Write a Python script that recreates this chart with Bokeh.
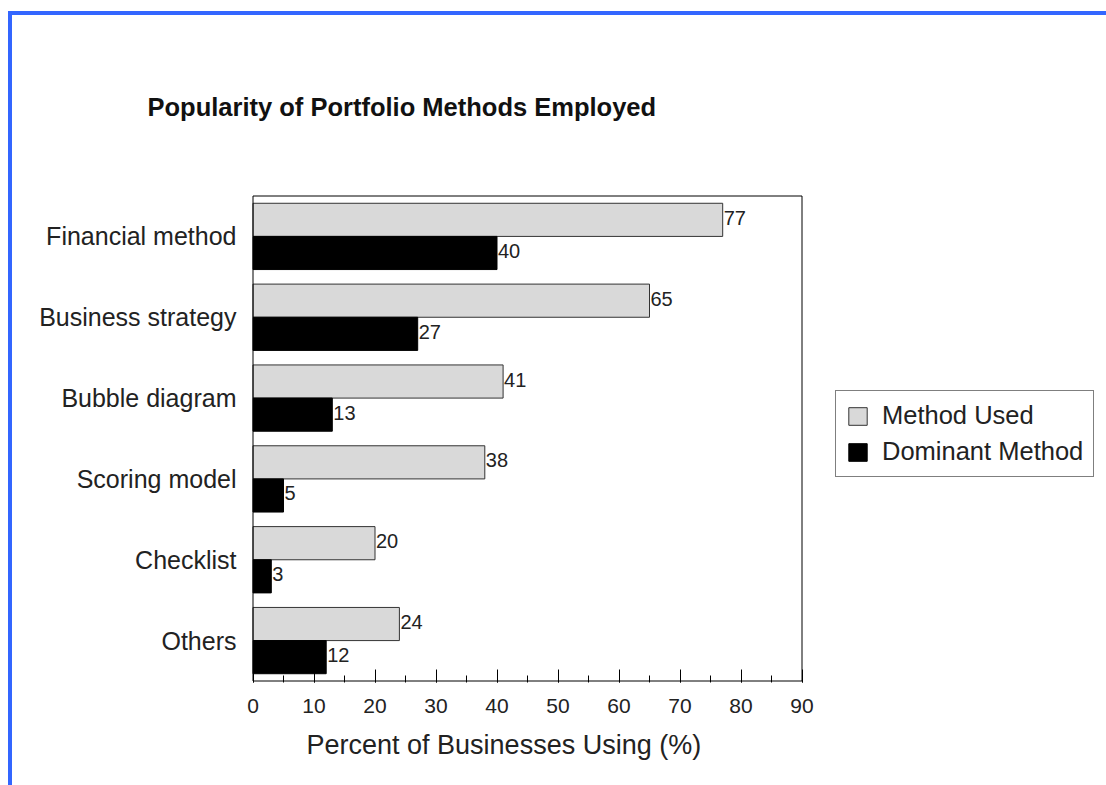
from bokeh.plotting import figure
from bokeh.models import (FactorRange, Range1d, ColumnDataSource, Legend, LegendItem,
                          SingleIntervalTicker, BoxAnnotation, Title)
from bokeh.core.properties import value
from bokeh.transform import dodge
from bokeh.embed import file_html
from bokeh.resources import INLINE

categories = ["Financial method", "Business strategy", "Bubble diagram",
              "Scoring model", "Checklist", "Others"]
method_used = [77, 65, 41, 38, 20, 24]
dominant_method = [40, 27, 13, 5, 3, 12]
series_names = ["Method Used", "Dominant Method"]
x_ticks_max = 90
x_axis_title = "Percent of Businesses Using (%)"
chart_title = "Popularity of Portfolio Methods Employed"

FONT = "Liberation Sans"
TXT = "#222222"

# layout (pixels)
W, H = 1106, 785
FRAME_L, FRAME_T, FRAME_B = 251, 194, 103
X0_PX, X90_PX = 252.5, 801.5
PX_PER_UNIT = (X90_PX - X0_PX) / x_ticks_max
x_start = -(X0_PX - FRAME_L) / PX_PER_UNIT
x_end = x_start + (W - FRAME_L) / PX_PER_UNIT
frame_h = H - FRAME_T - FRAME_B
cat_px = (frame_h - 3) / len(categories)
pad_units = 1.5 / cat_px

src = ColumnDataSource(dict(
    cat=categories,
    used=method_used,
    dom=dominant_method,
    used_s=[str(v) for v in method_used],
    dom_s=[str(v) for v in dominant_method],
))

yr = FactorRange(factors=list(reversed(categories)), range_padding=pad_units,
                 range_padding_units="absolute")
p = figure(width=W, height=H, output_backend="svg", toolbar_location=None,
           y_range=yr, x_range=Range1d(x_start, x_end),
           min_border_left=FRAME_L, min_border_right=0,
           min_border_top=FRAME_T, min_border_bottom=FRAME_B)
p.background_fill_color = None
p.border_fill_color = None
p.outline_line_color = None
p.xgrid.visible = False
p.ygrid.visible = False
p.styles = {"box-shadow": "inset 8px 11px 0 0 #ffffff, inset 12px 15px 0 0 #3366ff",
            "background-color": "#ffffff"}

r1 = p.hbar(y=dodge("cat", 0.205, range=p.y_range), right="used", left=0, height=0.41,
            source=src, fill_color="#d9d9d9", line_color="#333333", line_width=1)
r2 = p.hbar(y=dodge("cat", -0.205, range=p.y_range), right="dom", left=0, height=0.41,
            source=src, fill_color="black", line_color="black", line_width=1)

p.text(x="used", y=dodge("cat", 0.205, range=p.y_range), text="used_s", source=src,
       x_offset=1, y_offset=-2, text_baseline="alphabetic", text_align="left",
       text_font=value(FONT), text_font_size="20px", text_color=TXT)
p.text(x="dom", y=dodge("cat", -0.205, range=p.y_range), text="dom_s", source=src,
       x_offset=1, y_offset=-2, text_baseline="alphabetic", text_align="left",
       text_font=value(FONT), text_font_size="20px", text_color=TXT)

# plot box (0..90 by full category span)
p.add_layout(BoxAnnotation(left=0, right=x_ticks_max, bottom=0, top=len(categories),
                           fill_alpha=0, line_color="black", line_alpha=1, line_width=1,
                           line_dash="solid", level="overlay"))

xa = p.xaxis[0]
xa.ticker = SingleIntervalTicker(interval=10, num_minor_ticks=2)
xa.bounds = (0, x_ticks_max)
xa.major_tick_in = 13
xa.major_tick_out = 0
xa.minor_tick_in = 7
xa.minor_tick_out = 0
xa.major_tick_line_color = "black"
xa.minor_tick_line_color = "black"
xa.axis_line_color = None
xa.major_label_text_font = FONT
xa.major_label_text_font_size = "21px"
xa.major_label_text_color = TXT
xa.major_label_standoff = 16

ya = p.yaxis[0]
ya.major_tick_in = 0
ya.major_tick_out = 0
ya.minor_tick_in = 0
ya.minor_tick_out = 0
ya.axis_line_color = None
ya.major_label_text_font = FONT
ya.major_label_text_font_size = "25px"
ya.major_label_text_color = TXT
ya.major_label_standoff = 15

legend = Legend(items=[LegendItem(label=series_names[0], renderers=[r1]),
                       LegendItem(label=series_names[1], renderers=[r2])],
                location=(835 - FRAME_L, (H - FRAME_B) - 477))
legend.border_line_color = "black"
legend.border_line_width = 1
legend.background_fill_color = "white"
legend.background_fill_alpha = 1
legend.label_text_font = FONT
legend.label_text_font_size = "25.5px"
legend.label_text_color = TXT
legend.glyph_width = 23
legend.glyph_height = 22
legend.label_height = 22
legend.label_standoff = 13
legend.spacing = 7
legend.padding = 10
legend.margin = 0
p.add_layout(legend)

p.title.text = chart_title
p.title.text_font = FONT
p.title.text_font_size = "25.5px"
p.title.text_font_style = "bold"
p.title.text_color = "#111111"
p.title.align = "left"
p.title.offset = 147 - FRAME_L
p.title.standoff = 148

xt = Title(text=x_axis_title, text_font=FONT, text_font_size="27px",
           text_font_style="normal", text_color=TXT, align="left",
           offset=306 - FRAME_L, standoff=24)
p.add_layout(xt, "below")

open("out.html", "w").write(file_html(p, INLINE))
